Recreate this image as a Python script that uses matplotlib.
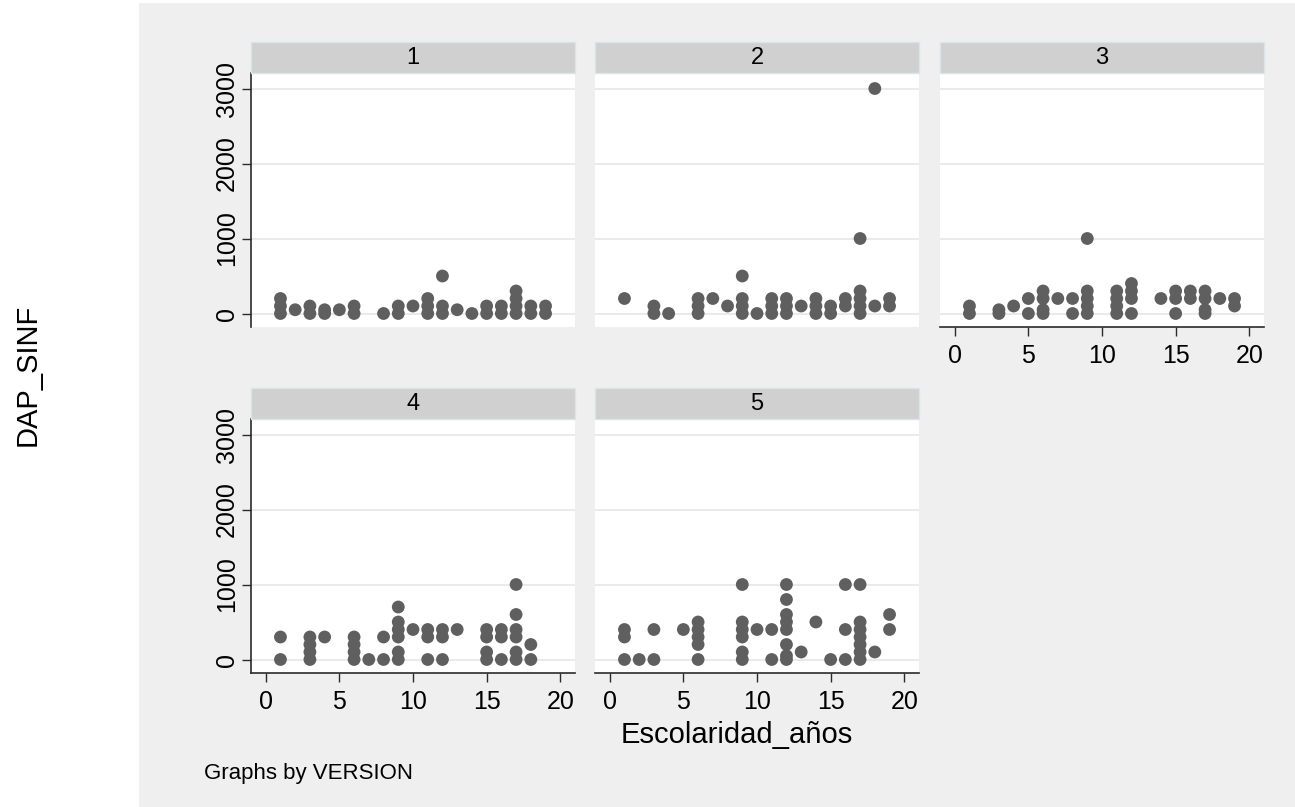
import matplotlib
matplotlib.use("Agg")
import matplotlib.pyplot as plt
from matplotlib.patches import Rectangle

plt.rcParams['font.family'] = ['Liberation Sans', 'DejaVu Sans']

# Escolaridad_años (x) and DAP_SINF (y) for each VERSION
esc_v1 = [1, 1, 1, 2, 3, 3, 4, 4, 5, 6, 6, 8, 9, 9, 10, 11, 11, 11, 12, 12, 12,
          13, 14, 15, 15, 16, 16, 17, 17, 17, 17, 18, 18, 19, 19]
dap_v1 = [0, 100, 200, 50, 0, 100, 0, 50, 50, 0, 100, 0, 0, 100, 100, 0, 100, 200, 0, 100, 500,
          50, 0, 0, 100, 0, 100, 0, 100, 200, 300, 0, 100, 0, 100]

esc_v2 = [1, 3, 3, 4, 6, 6, 6, 7, 8, 9, 9, 9, 9, 10, 11, 11, 11, 12, 12, 12, 13,
          14, 14, 14, 15, 15, 16, 16, 17, 17, 17, 17, 17, 18, 18, 19, 19]
dap_v2 = [200, 0, 100, 0, 0, 100, 200, 200, 100, 0, 100, 200, 500, 0, 0, 100, 200, 0, 100, 200, 100,
          0, 100, 200, 0, 100, 100, 200, 0, 100, 200, 300, 1000, 100, 3000, 100, 200]

esc_v3 = [1, 1, 3, 3, 4, 5, 5, 6, 6, 6, 6, 7, 8, 8, 9, 9, 9, 9, 9, 11, 11, 11, 11,
          12, 12, 12, 12, 14, 15, 15, 15, 16, 16, 17, 17, 17, 17, 18, 19, 19]
dap_v3 = [0, 100, 0, 50, 100, 0, 200, 0, 50, 200, 300, 200, 0, 200, 0, 100, 200, 300, 1000, 0, 100, 200, 300,
          0, 200, 300, 400, 200, 0, 200, 300, 200, 300, 0, 50, 200, 300, 200, 100, 200]

esc_v4 = [1, 1, 3, 3, 3, 3, 4, 6, 6, 6, 6, 7, 8, 8, 9, 9, 9, 9, 9, 9, 10, 11, 11, 11,
          12, 12, 12, 13, 15, 15, 15, 15, 16, 16, 16, 17, 17, 17, 17, 17, 17, 18, 18]
dap_v4 = [0, 300, 0, 100, 200, 300, 300, 0, 100, 200, 300, 0, 0, 300, 0, 100, 300, 400, 500, 700, 400, 0, 300, 400,
          0, 300, 400, 400, 0, 100, 300, 400, 0, 300, 400, 0, 100, 300, 400, 600, 1000, 0, 200]

esc_v5 = [1, 1, 1, 2, 3, 3, 5, 6, 6, 6, 6, 6, 9, 9, 9, 9, 9, 9, 10, 11, 11,
          12, 12, 12, 12, 12, 12, 12, 12, 13, 14, 15, 16, 16, 16,
          17, 17, 17, 17, 17, 17, 17, 18, 19, 19]
dap_v5 = [0, 300, 400, 0, 0, 400, 400, 0, 200, 300, 400, 500, 0, 100, 300, 400, 500, 1000, 400, 0, 400,
          0, 50, 200, 400, 500, 600, 800, 1000, 100, 500, 0, 0, 400, 1000,
          0, 100, 200, 300, 400, 500, 1000, 100, 400, 600]

versions = ["1", "2", "3", "4", "5"]
esc = [esc_v1, esc_v2, esc_v3, esc_v4, esc_v5]
dap = [dap_v1, dap_v2, dap_v3, dap_v4, dap_v5]

y_ticks = [0, 1000, 2000, 3000]
x_ticks = [0, 5, 10, 15, 20]

W, H = 1295, 807
fig = plt.figure(figsize=(W / 100, H / 100), dpi=100)
fig.patch.set_facecolor("white")
fig.patches.append(Rectangle((139 / W, 0), (W - 139) / W, (H - 3) / H,
                             transform=fig.transFigure, facecolor="#EFEFEF",
                             edgecolor="none", zorder=-5))

cols = [(251, 575), (595, 919), (940, 1264)]
rows = [(73, 327), (419, 673)]
strip_h = 31

marker_col = "#5F5F5F"
grid_col = "#E8E8E8"
axis_col = "#2B2B2B"
tick_fs = 18

for i, v in enumerate(versions):
    r, c = divmod(i, 3)
    x0, x1 = cols[c]
    yt, yb = rows[r]
    ax = fig.add_axes([x0 / W, 1 - yb / H, (x1 - x0) / W, (yb - yt) / H])
    ax.set_zorder(1)
    ax.set_facecolor("white")
    ax.set_xlim(-1, 21)
    ax.set_ylim(-180, 3207)
    for g in y_ticks:
        ax.axhline(g, color=grid_col, lw=1.3, zorder=1)
    ax.scatter(esc[i], dap[i], s=85, color=marker_col, edgecolors="none", zorder=3)

    for s in ax.spines.values():
        s.set_visible(False)
    ax.set_yticks(y_ticks)
    ax.set_xticks(x_ticks)
    show_y = (c == 0)
    show_x = (i >= 2)
    if show_y:
        ax.spines["left"].set_visible(True)
        ax.spines["left"].set_color(axis_col)
        ax.spines["left"].set_linewidth(1.2)
        ax.tick_params(axis="y", length=6.5, width=1, color=axis_col, pad=2,
                       labelsize=tick_fs, labelrotation=90)
        for lab in ax.get_yticklabels():
            lab.set_va("center")
    else:
        ax.tick_params(axis="y", left=False, labelleft=False)
    if show_x:
        ax.spines["bottom"].set_visible(True)
        ax.spines["bottom"].set_color(axis_col)
        ax.spines["bottom"].set_linewidth(1.2)
        ax.tick_params(axis="x", length=6.5, width=1, color=axis_col, pad=5.5,
                       labelsize=tick_fs)
    else:
        ax.tick_params(axis="x", bottom=False, labelbottom=False)

    # facet strip
    fig.patches.append(Rectangle((x0 / W, 1 - yt / H), (x1 - x0) / W, strip_h / H,
                                 transform=fig.transFigure, facecolor="#D0D0D0",
                                 edgecolor="#D8E5EA", lw=1, zorder=2))
    fig.text((x0 + x1) / 2 / W, 1 - (yt - strip_h / 2) / H, v, ha="center",
             va="center", fontsize=17, color="black", zorder=3)

fig.text(737 / W, 1 - 735 / H, "Escolaridad_años", ha="center", va="center", fontsize=21)
fig.text(28 / W, 1 - 375 / H, "DAP_SINF", ha="center", va="center", fontsize=21,
         rotation=90)
fig.text(204 / W, 1 - 773 / H, "Graphs by VERSION", ha="left", va="center", fontsize=16)

fig.savefig("out.png", dpi=100)
